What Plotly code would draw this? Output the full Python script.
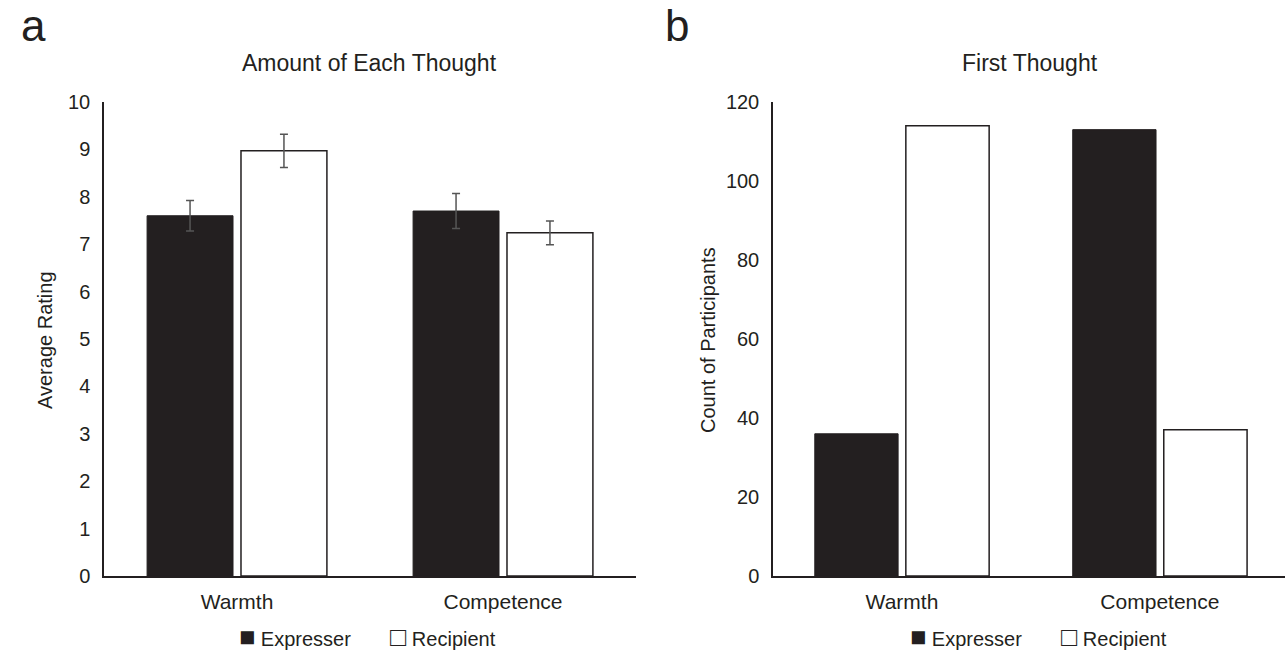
import plotly.graph_objects as go

categories = ["Warmth", "Competence"]

# Panel a: Amount of Each Thought (average rating)
amount_expresser = [7.60, 7.70]
amount_expresser_err = [0.32, 0.37]
amount_recipient = [8.97, 7.24]
amount_recipient_err = [0.35, 0.25]

# Panel b: First Thought (count of participants)
first_expresser = [36, 113]
first_recipient = [114, 37]

a_ticks = list(range(0, 11))
b_ticks = list(range(0, 121, 20))

DARK = "#231f20"
FONT = "Liberation Sans, Arial, sans-serif"
W, H = 1285, 651


def px(x):
    return x / W


def py(y):
    return 1 - y / H


fig = go.Figure()

fig.add_trace(go.Bar(
    x=categories, y=amount_expresser, name="Expresser",
    marker=dict(color=DARK, line=dict(color=DARK, width=1)),
    error_y=dict(type="data", array=amount_expresser_err, color="#555555", thickness=1.5, width=4),
    xaxis="x", yaxis="y", showlegend=False,
))
fig.add_trace(go.Bar(
    x=categories, y=amount_recipient, name="Recipient",
    marker=dict(color="white", line=dict(color=DARK, width=1.5)),
    error_y=dict(type="data", array=amount_recipient_err, color="#555555", thickness=1.5, width=4),
    xaxis="x", yaxis="y", showlegend=False,
))
fig.add_trace(go.Bar(
    x=categories, y=first_expresser, name="Expresser",
    marker=dict(color=DARK, line=dict(color=DARK, width=1)),
    xaxis="x2", yaxis="y2", showlegend=False,
))
fig.add_trace(go.Bar(
    x=categories, y=first_recipient, name="Recipient",
    marker=dict(color="white", line=dict(color=DARK, width=1.5)),
    xaxis="x2", yaxis="y2", showlegend=False,
))

y_dom = [py(576), py(102)]
axis_common = dict(showgrid=False, zeroline=False, showline=True, linecolor=DARK, linewidth=1.5,
                   automargin=False)
xfont = dict(family=FONT, size=21, color=DARK)
yfont = dict(family=FONT, size=20, color=DARK)

fig.update_layout(
    width=W, height=H,
    margin=dict(l=0, r=0, t=0, b=0, autoexpand=False),
    paper_bgcolor="white", plot_bgcolor="white",
    barmode="group", bargap=0.294, bargroupgap=0.085,
    font=dict(family=FONT, color=DARK),
    xaxis=dict(domain=[px(104), px(636)], range=[-0.5, 1.5], anchor="y", tickfont=xfont,
               ticks="outside", ticklen=6, tickcolor="rgba(0,0,0,0)", **axis_common),
    yaxis=dict(domain=y_dom, range=[0, 10], anchor="x", tickvals=a_ticks, tickfont=yfont,
               ticks="outside", ticklen=8, tickcolor="rgba(0,0,0,0)", **axis_common),
    xaxis2=dict(domain=[px(773), 1.0], range=[-0.5, 1.485], anchor="y2", tickfont=xfont,
                ticks="outside", ticklen=6, tickcolor="rgba(0,0,0,0)", **axis_common),
    yaxis2=dict(domain=y_dom, range=[0, 120], anchor="x2", tickvals=b_ticks, tickfont=yfont,
                ticks="outside", ticklen=8, tickcolor="rgba(0,0,0,0)", **axis_common),
)

ann = []
ann.append(dict(text="a", x=px(33), y=1, yanchor="top", font=dict(size=44)))
ann.append(dict(text="b", x=px(677), y=1, yanchor="top", font=dict(size=44)))
ann.append(dict(text="Amount of Each Thought", x=px(370), y=py(63), font=dict(size=23)))
ann.append(dict(text="First Thought", x=px(1030), y=py(63), font=dict(size=23)))
ann.append(dict(text="Average Rating", x=px(45), y=py(340), textangle=-90, font=dict(size=20)))
ann.append(dict(text="Count of Participants", x=px(708), y=py(340), textangle=-90, font=dict(size=20)))

SQ = '<span style="font-size:27px">%s</span> %s'
for xl, sym, label in [(238, "■", "Expresser"), (389, "□", "Recipient"),
                       (909, "■", "Expresser"), (1060, "□", "Recipient")]:
    ann.append(dict(text=SQ % (sym, label), x=px(xl), y=py(637), xanchor="left", font=dict(size=20)))

for a in ann:
    a.setdefault("xanchor", "center")
    a.setdefault("yanchor", "middle")
    a.update(xref="paper", yref="paper", showarrow=False, borderpad=0)
    a["font"] = dict(family=FONT, color=DARK, **a["font"])

fig.update_layout(annotations=ann)

fig.write_html("out.html", config={"displayModeBar": False},
               post_script="document.body.style.margin='0';document.body.style.overflow='hidden';")
